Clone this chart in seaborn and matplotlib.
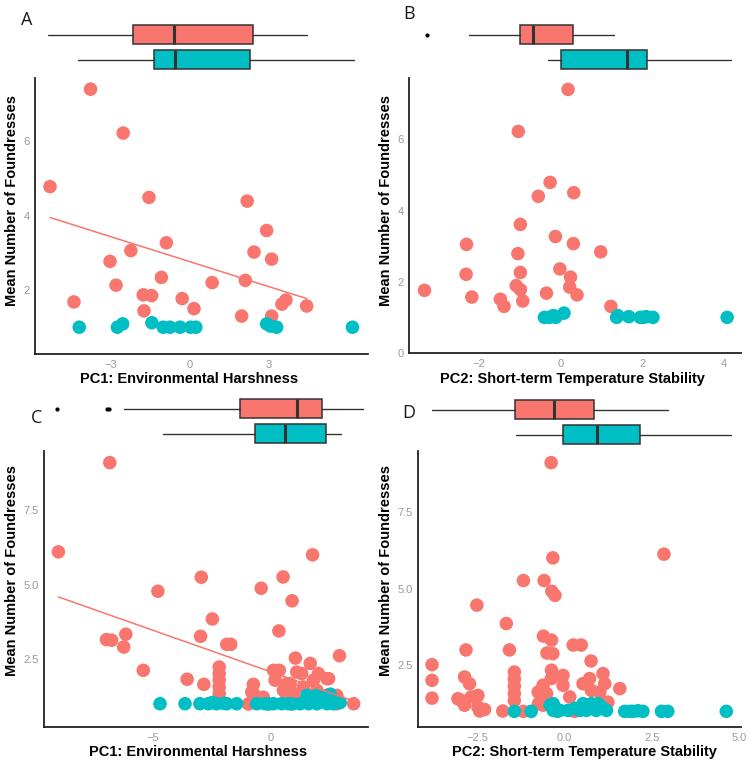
import matplotlib
matplotlib.use('Agg')
import matplotlib.pyplot as plt
import pandas as pd
import seaborn as sns

RED = '#F8766D'
TEAL = '#00BFC4'
W, H = 754, 766

# panel A: PC1 (first data set)
a_red_x = [-3.75, -2.51, -5.29, -1.53, 2.20, 2.94, -0.87, -2.22, 2.46, -3.01, 3.13, -1.06, -2.78,
           0.87, 2.13, -1.75, -1.43, -0.27, -4.38, 3.67, 3.52, 4.46, 0.18, -1.72, 1.99, 3.13]
a_red_y = [7.40, 6.22, 4.78, 4.49, 4.39, 3.60, 3.27, 3.06, 3.02, 2.77, 2.83, 2.34, 2.13,
           2.20, 2.26, 1.87, 1.85, 1.77, 1.68, 1.73, 1.62, 1.57, 1.50, 1.44, 1.30, 1.30]
a_teal_x = [-4.18, -2.73, -2.53, -1.42, -0.99, -0.73, -0.35, 0.05, 0.25, 2.94, 3.09, 3.32, 6.20]
a_teal_y = [1.0, 1.0, 1.09, 1.12, 1.0, 1.0, 1.0, 1.0, 1.0, 1.09, 1.03, 1.0, 1.0]
a_fit_x = [-5.29, 4.46]
a_fit_y = [3.95, 1.77]
a_box_red = [-5.37, -2.13, -0.58, 2.42, 4.47]
a_box_teal = [-4.23, -1.34, -0.56, 2.30, 6.25]

# panel B: PC2 (first data set)
b_red_x = [0.18, -1.04, -0.26, -0.55, 0.32, -0.99, -0.13, 0.31, -2.31, -1.05, 0.98, -0.02, -0.99,
           -2.32, 0.24, -1.09, -0.99, -3.34, 0.22, -0.35, 0.40, -2.18, -1.48, -0.93, -1.39, 1.23]
b_red_y = [7.40, 6.22, 4.79, 4.40, 4.50, 3.61, 3.27, 3.07, 3.05, 2.79, 2.84, 2.36, 2.26,
           2.21, 2.13, 1.89, 1.78, 1.76, 1.85, 1.68, 1.63, 1.57, 1.51, 1.46, 1.31, 1.31]
b_teal_x = [-0.40, -0.28, -0.18, -0.12, 0.08, 1.37, 1.40, 1.67, 1.95, 2.02, 2.10, 2.26, 4.08]
b_teal_y = [1.0, 1.0, 1.05, 1.0, 1.12, 1.0, 1.05, 1.02, 1.0, 1.0, 1.02, 1.0, 1.0]
b_box_red = [-2.24, -1.00, -0.67, 0.31, 1.31]
b_flier_red = [-3.27]
b_box_teal = [-0.31, 0.00, 1.63, 2.12, 4.18]

# panel C: PC1 (second data set)
c_red_x = [-6.84, -9.02, 1.76, -2.96, 0.51, -4.80, -0.42, 0.89, -2.49, -6.16, 0.33, -6.98, -6.76,
           -6.25, -2.99, -1.88, -1.71, 1.03, 2.90, -5.42, -3.56, -2.85, -2.20, -2.20, -2.20,
           -2.20, -2.20, -2.20, -0.75, -0.82, -0.96, 1.66, 0.35, 1.09, 2.01, 2.37, 0.17, 1.80,
           0.81, 1.37, 1.94, 0.52, -0.33, 0.95, 2.37, 2.79, 3.50, 2.72, 0.60, 1.30, 2.20, -0.50,
           0.10, 2.44, 1.30, 0.67, -0.75, 2.79]
c_red_y = [9.09, 6.10, 6.00, 5.25, 5.26, 4.78, 4.88, 4.46, 3.85, 3.34, 3.45, 3.16, 3.14,
           2.91, 3.27, 3.00, 3.00, 2.54, 2.62, 2.13, 1.83, 1.66, 2.24, 2.02, 1.80,
           1.57, 1.35, 1.18, 1.66, 1.40, 1.00, 2.36, 2.13, 2.07, 2.02, 1.85, 1.80, 1.80,
           1.68, 1.57, 1.46, 1.46, 1.23, 1.35, 1.29, 1.01, 1.01, 1.15, 1.10, 1.05, 1.10, 1.05,
           2.13, 1.85, 2.02, 1.68, 1.35, 1.29]
c_teal_x = [-4.71, -3.65, -3.02, -2.66, -2.31, -1.88, -1.46, -0.61, -0.26, 0.10, 0.45, 0.74,
            1.23, 1.59, 1.94, 2.37, 2.65, 1.52, 1.94, 2.51, 2.20, -2.50, -2.00, -0.10, 0.90,
            1.75, 2.00, 2.93]
c_teal_y = [1.01, 1.01, 1.01, 1.01, 1.01, 1.01, 1.01, 1.01, 1.01, 1.01, 1.01, 1.01,
            1.01, 1.01, 1.01, 1.01, 1.01, 1.29, 1.29, 1.33, 1.20, 1.05, 1.02, 1.00, 1.00,
            1.10, 1.05, 1.05]
c_fit_x = [-9.02, 3.50]
c_fit_y = [4.59, 1.10]
c_box_red = [-6.25, -1.33, 1.10, 2.17, 3.88]
c_flier_red = [-9.08, -6.95, -6.88]
c_box_teal = [-4.60, -0.68, 0.57, 2.35, 2.97]

# panel D: PC2 (second data set)
d_red_x = [-0.38, 2.84, -0.33, -1.17, -0.58, -0.36, -0.27, -2.50, -1.66, -0.60, -0.37, 0.25,
           0.48, -2.81, -1.57, -0.50, -0.33, 0.76, -3.78, -3.78, -3.78, -1.43, -1.43, -1.43,
           -1.43, -1.43, -2.85, -2.71, -2.95, -2.66, -2.47, -3.04, -2.85, -2.47, -2.42, -2.28,
           -1.76, -1.17, -0.37, -0.37, -0.04, -0.04, -0.61, -0.75, -0.51, 0.15, -0.61, -0.74,
           0.53, 0.72, 1.10, 1.15, 0.77, 1.01, 1.58, 1.24, 0.25, 0.29]
d_red_y = [9.10, 6.12, 6.00, 5.26, 5.26, 4.91, 4.78, 4.46, 3.86, 3.45, 3.32, 3.16,
           3.16, 3.00, 3.00, 2.90, 2.88, 2.64, 2.52, 2.01, 1.43, 2.28, 2.05, 1.82,
           1.58, 1.35, 2.12, 1.90, 1.36, 1.47, 1.52, 1.41, 1.20, 1.14, 1.01, 1.06,
           1.01, 1.00, 2.34, 2.07, 2.17, 1.85, 1.85, 1.63, 1.58, 1.47, 1.20, 1.25,
           1.90, 2.07, 2.23, 1.90, 1.68, 1.63, 1.74, 1.30, 1.03, 1.00]
d_teal_x = [-1.43, -0.95, -0.41, -0.32, -0.32, -0.13, 0.10, 0.44, 0.53, 0.63, 0.77, 0.91,
            0.96, 1.20, 1.72, 1.87, 1.96, 2.10, 2.24, 2.77, 2.95, 4.62, -0.20, 0.30, 1.05, 0.70]
d_teal_y = [1.0, 1.0, 1.20, 1.25, 1.03, 1.03, 1.03, 1.03, 1.25, 1.03, 1.25, 1.03,
            1.25, 1.03, 1.0, 1.0, 1.0, 1.02, 1.0, 1.0, 1.0, 1.0, 1.0, 1.10, 1.15, 1.10]
d_box_red = [-3.78, -1.40, -0.31, 0.83, 2.95]
d_box_teal = [-1.39, -0.03, 0.92, 2.15, 4.75]

sns.set_style('white')
plt.rcParams['font.family'] = ['Liberation Sans', 'DejaVu Sans']


def rect(left, right, top, bottom):
    return [left / W, 1 - bottom / H, (right - left) / W, (bottom - top) / H]


def box_stats(vals, fliers):
    return {'whislo': vals[0], 'q1': vals[1], 'med': vals[2], 'q3': vals[3],
            'whishi': vals[4], 'fliers': fliers}


def draw_panel(fig, main_px, box_px, red_x, red_y, teal_x, teal_y, box_red, box_teal,
               flier_red, xlim, ylim, xticks, yticks, fit_x=None, fit_y=None):
    ax = fig.add_axes(rect(*main_px))
    df = pd.DataFrame({'x': red_x + teal_x, 'y': red_y + teal_y,
                       'grp': ['r'] * len(red_x) + ['t'] * len(teal_x)})
    sns.scatterplot(data=df, x='x', y='y', hue='grp', palette={'r': RED, 't': TEAL},
                    s=95, linewidth=0, alpha=1, legend=False, ax=ax)
    if fit_x is not None:
        ax.plot(fit_x, fit_y, color=RED, lw=1.1, zorder=3)
    ax.set_xlim(xlim)
    ax.set_ylim(ylim)
    ax.set_xticks(xticks)
    ax.set_yticks(yticks)
    ax.set_xlabel('')
    ax.set_ylabel('')
    for s in ['top', 'right']:
        ax.spines[s].set_visible(False)
    for s in ['left', 'bottom']:
        ax.spines[s].set_color('#222222')
        ax.spines[s].set_linewidth(1.3)
    ax.tick_params(colors='#9a9a9a', labelsize=8, length=3, width=0.8, pad=1)

    bx = fig.add_axes(rect(*box_px))
    stats = [box_stats(box_teal, []), box_stats(box_red, flier_red)]
    parts = bx.bxp(stats, positions=[0, 1], widths=0.75, orientation='horizontal',
                   patch_artist=True, showcaps=False,
                   boxprops=dict(edgecolor='#333333', linewidth=1.1),
                   whiskerprops=dict(color='#333333', linewidth=1.0),
                   medianprops=dict(color='#333333', linewidth=2.2),
                   flierprops=dict(marker='o', markersize=2.0, markerfacecolor='black',
                                   markeredgecolor='black'))
    for patch, col in zip(parts['boxes'], [TEAL, RED]):
        patch.set_facecolor(col)
    bx.set_xlim(xlim)
    bx.set_ylim(-0.5, 1.5)
    bx.axis('off')
    return ax


fig = plt.figure(figsize=(W / 100, H / 100), dpi=100)

draw_panel(fig, (35, 368, 78, 354), (35, 368, 22, 72), a_red_x, a_red_y, a_teal_x, a_teal_y,
           a_box_red, a_box_teal, [], (-5.86, 6.79), (0.28, 7.70), [-3, 0, 3], [2, 4, 6],
           a_fit_x, a_fit_y)
draw_panel(fig, (409, 741, 78, 353), (409, 741, 22, 72), b_red_x, b_red_y, b_teal_x, b_teal_y,
           b_box_red, b_box_teal, b_flier_red, (-3.72, 4.42), (0, 7.72), [-2, 0, 2, 4],
           [0, 2, 4, 6])
axc = draw_panel(fig, (44, 368, 451, 727), (44, 368, 396, 446), c_red_x, c_red_y, c_teal_x,
                 c_teal_y, c_box_red, c_box_teal, c_flier_red, (-9.63, 4.11), (0.23, 9.48),
                 [-5, 0], [2.5, 5.0, 7.5], c_fit_x, c_fit_y)
axd = draw_panel(fig, (418, 741, 451, 727), (418, 741, 397, 447), d_red_x, d_red_y, d_teal_x,
                 d_teal_y, d_box_red, d_box_teal, [], (-4.18, 5.04), (0.49, 9.48),
                 [-2.5, 0.0, 2.5, 5.0], [2.5, 5.0, 7.5])
axc.set_yticklabels(['2.5', '5.0', '7.5'])
axd.set_yticklabels(['2.5', '5.0', '7.5'])
axd.set_xticklabels(['\u22122.5', '0.0', '2.5', '5.0'])

xl1 = 'PC1: Environmental Harshness'
xl2 = 'PC2: Short-term Temperature Stability'
yl = 'Mean Number of Foundresses'
lab = dict(fontsize=10.5, fontweight='bold', ha='center', va='center', color='black')
for (x, y, t) in [(189, 379, xl1), (572, 379, xl2), (198, 752, xl1), (584, 752, xl2)]:
    fig.text(x / W, 1 - y / H, t, **lab)
for (x, y) in [(12, 201), (386, 200), (12, 570), (386, 570)]:
    fig.text(x / W, 1 - y / H, yl, rotation=90, **lab)

letter = dict(fontsize=13, ha='center', va='center', family=['Open Sans', 'DejaVu Sans'],
              color='#1a1a1a')
for (x, y, t) in [(27, 20, 'A'), (409, 14, 'B'), (37, 418, 'C'), (409, 413, 'D')]:
    fig.text(x / W, 1 - y / H, t, **letter)

fig.savefig('out.png', dpi=100)
